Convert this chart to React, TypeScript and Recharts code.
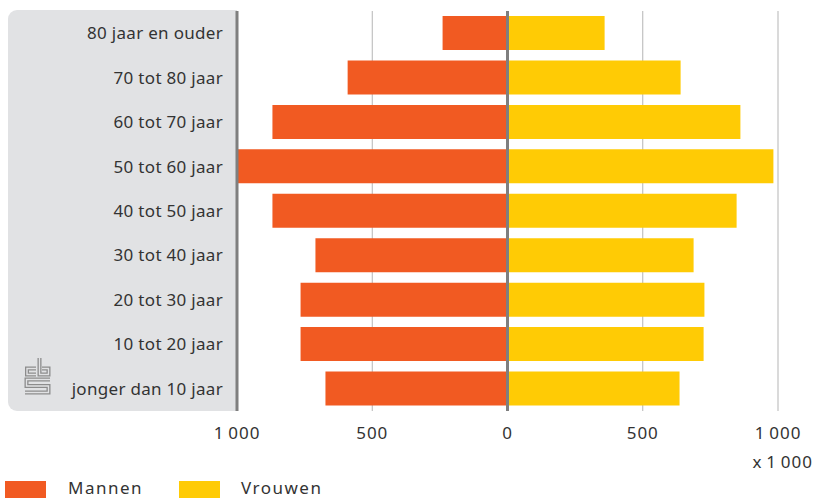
import React from 'react';
import {
  BarChart,
  Bar,
  XAxis,
  YAxis,
  CartesianGrid,
  ReferenceLine,
} from 'recharts';

const categories = [
  '80 jaar en ouder',
  '70 tot 80 jaar',
  '60 tot 70 jaar',
  '50 tot 60 jaar',
  '40 tot 50 jaar',
  '30 tot 40 jaar',
  '20 tot 30 jaar',
  '10 tot 20 jaar',
  'jonger dan 10 jaar',
];
const mannen = [240, 591, 869, 1000, 869, 710, 765, 765, 673];
const vrouwen = [359, 640, 861, 983, 847, 688, 728, 725, 636];
const xTicks = [-1000, -500, 0, 500, 1000];

const ORANGE = '#F15A22';
const YELLOW = '#FFCB05';
const PANEL = '#E1E2E4';
const TEXT = '#333333';
const FONT = '"Noto Sans", sans-serif';

const data = categories.map((cat, i) => ({
  cat,
  mannen: -mannen[i],
  vrouwen: vrouwen[i],
}));

const fmt = (v: number) => {
  const a = Math.abs(v);
  return a >= 1000 ? `${Math.floor(a / 1000)}\u2009${String(a % 1000).padStart(3, '0')}` : String(a);
};

const LegendBlock = () => (
  <div style={{ position: 'absolute', left: 0, top: 479, width: 400, height: 20, fontFamily: FONT, fontSize: 17, color: TEXT, letterSpacing: 1.5 }}>
    <div style={{ position: 'absolute', left: 5, top: 2, width: 41, height: 20, background: ORANGE }} />
    <span style={{ position: 'absolute', left: 68, top: -3 }}>Mannen</span>
    <div style={{ position: 'absolute', left: 179, top: 2, width: 41, height: 20, background: YELLOW }} />
    <span style={{ position: 'absolute', left: 241, top: -3 }}>Vrouwen</span>
  </div>
);

// cbs logo, drawn as a thick grey line with a thinner panel-coloured line on top
const logoPaths = [
  'M11,10.5 H2 V16.5 H11',
  'M14.5,0 V16.5 H23.5 V10.5 H17',
  'M25,21.5 H1.5 V28 H23.5 V34.5 H0',
];
const CbsLogo = () => (
  <svg width={27} height={38} style={{ position: 'absolute', left: 24, top: 357 }} viewBox="-1 -1 27 38">
    {logoPaths.map((d) => (
      <path key={d + 'o'} d={d} fill="none" stroke="#8c8c8c" strokeWidth={4} strokeLinejoin="miter" />
    ))}
    {logoPaths.map((d) => (
      <path key={d + 'i'} d={d} fill="none" stroke={PANEL} strokeWidth={1.4} strokeLinejoin="miter" />
    ))}
  </svg>
);

export default function App() {
  return (
    <div style={{ position: 'absolute', left: 0, top: 0, width: 814, height: 498, overflow: 'hidden' }}>
      <div
        style={{
          position: 'absolute',
          left: 8,
          top: 10,
          width: 229,
          height: 401,
          background: PANEL,
          borderRadius: '9px 0 0 9px',
        }}
      />
      <CbsLogo />
      <div style={{ position: 'absolute', left: 0, top: 0 }}>
        <BarChart
          width={814}
          height={498}
          data={data}
          layout="vertical"
          stackOffset="sign"
          barCategoryGap={5}
          margin={{ top: 11, right: 36, left: 0, bottom: 0 }}
        >
          <CartesianGrid horizontal={false} vertical stroke="#b5b5b5" strokeWidth={1} ticks={xTicks} />
          <XAxis
            type="number"
            domain={[-1000, 1000]}
            ticks={xTicks}
            allowDataOverflow
            tickFormatter={fmt}
            axisLine={false}
            tickLine={false}
            tickMargin={10}
            height={87}
            tick={{ fontSize: 17, fill: TEXT, fontFamily: FONT, letterSpacing: 1 }}
            label={{ value: 'x\u20091\u2009000', position: 'insideTopRight', dx: 40, dy: 40, fontSize: 17, fill: TEXT, fontFamily: FONT, letterSpacing: 1 }}
          />
          <YAxis
            type="category"
            dataKey="cat"
            width={237}
            axisLine={false}
            tickLine={false}
            tickSize={0}
            tickMargin={14}
            tick={{ fontSize: 17, fill: TEXT, fontFamily: FONT, letterSpacing: 0.3 }}
          />
          <Bar dataKey="mannen" stackId="a" fill={ORANGE} isAnimationActive={false} />
          <Bar dataKey="vrouwen" stackId="a" fill={YELLOW} isAnimationActive={false} />
          <ReferenceLine x={0} stroke="#7f7f7f" strokeWidth={3} />
          <ReferenceLine x={-1000} stroke="#7f7f7f" strokeWidth={3} />
        </BarChart>
      </div>
      <LegendBlock />
    </div>
  );
}
